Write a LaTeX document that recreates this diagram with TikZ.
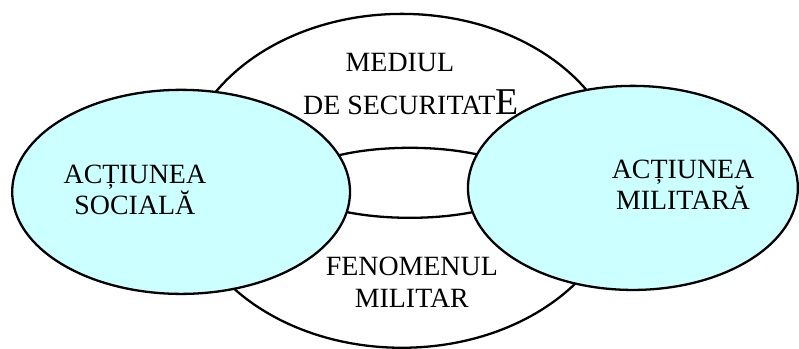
\documentclass[tikz,border=0pt]{standalone}
\usepackage{fontspec}
\setmainfont{Liberation Serif}
\usetikzlibrary{shapes.geometric}
\definecolor{actioncyan}{HTML}{CCFFFF}

\begin{document}
\begin{tikzpicture}[
        ring/.style={ellipse, draw, line width=2.3pt, inner sep=0},
        action/.style={ring, fill=actioncyan},
        caption/.style={font=\fontsize{28}{32}\selectfont, align=center, inner sep=0}
    ]
        
        % Ellipses and texts:
        \useasboundingbox (0, 0) rectangle (28.19, 12.31);
        \node[ring, fill=white, minimum width=15.52cm, minimum height=11.78cm] (mediu) at (14.18, 5.93) {};
        \node[ring, fill=white, minimum width=8.11cm, minimum height=2.47cm] (gol) at (14.46, 5.86) {};
        \node[action, minimum width=11.92cm, minimum height=7.2cm] (sociala) at (6.39, 5.54) {};
        \node[action, minimum width=11.64cm, minimum height=7.2cm] (militara) at (22.33, 5.68) {};
        \node[caption] (tmediu) at (14.11, 9.35) {MEDIUL\\[11pt] \hspace*{22pt}DE SECURITAT{\fontsize{38}{40}\selectfont E}};
        \node[caption] (tfenomen) at (14.53, 2.36) {FENOMENUL\\ MILITAR};
        \node[caption] (tsociala) at (4.76, 5.61) {ACȚIUNEA\\ SOCIALĂ};
        \node[caption] (tmilitara) at (24.10, 5.79) {ACȚIUNEA\\ MILITARĂ};
    \end{tikzpicture}
\end{document}
